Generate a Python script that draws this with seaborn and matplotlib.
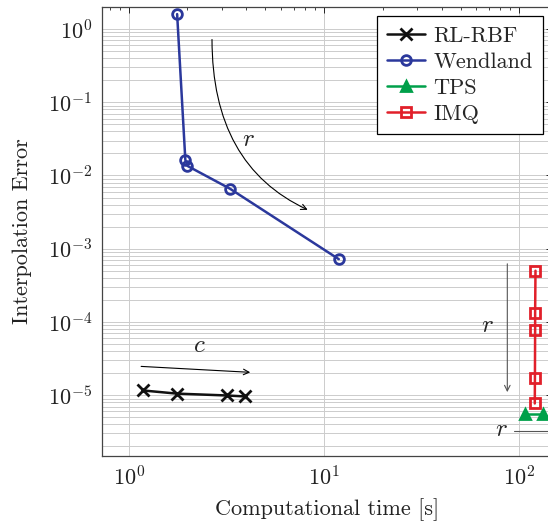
import matplotlib
matplotlib.use("Agg")
import matplotlib.pyplot as plt
import seaborn as sns
import pandas as pd
import numpy as np

# ---- data ----
rl_time = [1.18, 1.76, 3.18, 3.95]
rl_err = [1.16e-5, 1.05e-5, 9.9e-6, 9.6e-6]

wend_time = [1.77, 1.95, 2.0, 3.30, 11.9]
wend_err = [1.6, 1.63e-2, 1.35e-2, 6.6e-3, 7.2e-4]

tps_time = [107.4, 132.8]
tps_err = [5.5e-6, 5.5e-6]

imq_time = [121.0, 120.5, 120.5, 120.2, 120.0]
imq_err = [5.0e-4, 1.34e-4, 7.8e-5, 1.73e-5, 7.7e-6]

series_names = ["RL-RBF", "Wendland", "TPS", "IMQ"]
xlabel = "Computational time [s]"
ylabel = "Interpolation Error"

# ---- build table ----
frames = []
for name, t, e in zip(series_names,
                      [rl_time, wend_time, tps_time, imq_time],
                      [rl_err, wend_err, tps_err, imq_err]):
    frames.append(pd.DataFrame({"time": t, "err": e, "method": name,
                                "order": range(len(t))}))
df = pd.concat(frames, ignore_index=True)

sns.set_style("white")
plt.rcParams["font.family"] = ["serif"]
plt.rcParams["font.serif"] = ["cmr10", "DejaVu Serif"]
plt.rcParams["mathtext.fontset"] = "cm"
plt.rcParams["axes.formatter.use_mathtext"] = True

colors = {"RL-RBF": "#111111", "Wendland": "#2b389c", "TPS": "#00a04a", "IMQ": "#e1202a"}
markers = {"RL-RBF": "x", "Wendland": "o", "TPS": "^", "IMQ": "s"}
mfc = {"RL-RBF": "#111111", "Wendland": "none", "TPS": "#00a04a", "IMQ": "none"}
msize = {"RL-RBF": 8, "Wendland": 7, "TPS": 7.5, "IMQ": 7}

fig = plt.figure(figsize=(5.48, 5.24), dpi=100)
L, R, T, B = 102, 552, 7, 455.7
ax = fig.add_axes([L / 548, 1 - B / 524, (R - L) / 548, (B - T) / 524])

for name in series_names:
    sub = df[df["method"] == name]
    sns.lineplot(data=sub, x="time", y="err", ax=ax, sort=False, estimator=None,
                 color=colors[name], lw=1.8, marker=markers[name],
                 markersize=msize[name], markerfacecolor=mfc[name],
                 markeredgecolor=colors[name], markeredgewidth=2.0,
                 label=name, zorder=3)

ax.set_xscale("log")
ax.set_yscale("log")
ax.set_xlim(0.73, 147)
ax.set_ylim(1.49e-6, 2.0)

# grid
ax.grid(False)
ax.xaxis.grid(True, which="major", color="#cccccc", lw=0.7)
ax.yaxis.grid(True, which="both", color="#cccccc", lw=0.7)
ax.set_axisbelow(True)

ax.tick_params(which="both", direction="in", top=True, right=True,
               labelsize=16, colors="#222222")
ax.tick_params(which="major", length=4.5, width=0.7)
ax.tick_params(which="minor", length=2.5, width=0.6)
ax.tick_params(axis="both", labelcolor="#222222", pad=7)
for s in ax.spines.values():
    s.set_color("#444444")
    s.set_linewidth(0.9)

ax.set_xlabel(xlabel, fontsize=16, color="#222222", labelpad=6)
ax.set_ylabel(ylabel, fontsize=16, color="#222222", labelpad=11)

# annotations
ax.annotate("", xy=(8.25, 3.4e-3), xytext=(2.67, 0.72),
            arrowprops=dict(arrowstyle="->", connectionstyle="angle3,angleA=90,angleB=-25",
                            color="black", lw=0.8, shrinkA=0, shrinkB=0))
ax.text(4.1, 0.031, "$r$", fontsize=18, ha="center", va="center")

ax.annotate("", xy=(4.19, 2.05e-5), xytext=(1.158, 2.47e-5),
            arrowprops=dict(arrowstyle="->", color="black", lw=0.8, shrinkA=0, shrinkB=0))
ax.text(2.30, 4.63e-5, "$c$", fontsize=18, ha="center", va="center")

ax.annotate("", xy=(86.8, 1.1e-5), xytext=(86.8, 6.22e-4),
            arrowprops=dict(arrowstyle="->", color="#555555", lw=0.8, shrinkA=0, shrinkB=0))
ax.text(68.5, 8.69e-5, "$r$", fontsize=18, ha="center", va="center")

ax.plot([94.3, 400], [3.28e-6, 3.28e-6], color="#555555", lw=0.8, clip_on=True)
ax.text(81.2, 3.35e-6, "$r$", fontsize=18, ha="center", va="center")

leg = ax.legend(loc="upper right", bbox_to_anchor=(0.98, 0.98), borderaxespad=0,
                fontsize=16, frameon=True, fancybox=False, framealpha=1,
                edgecolor="black", handlelength=1.7, numpoints=1,
                labelspacing=0.3, borderpad=0.45, handletextpad=0.4)
leg.get_frame().set_linewidth(0.9)

fig.savefig("out.png", dpi=100)
